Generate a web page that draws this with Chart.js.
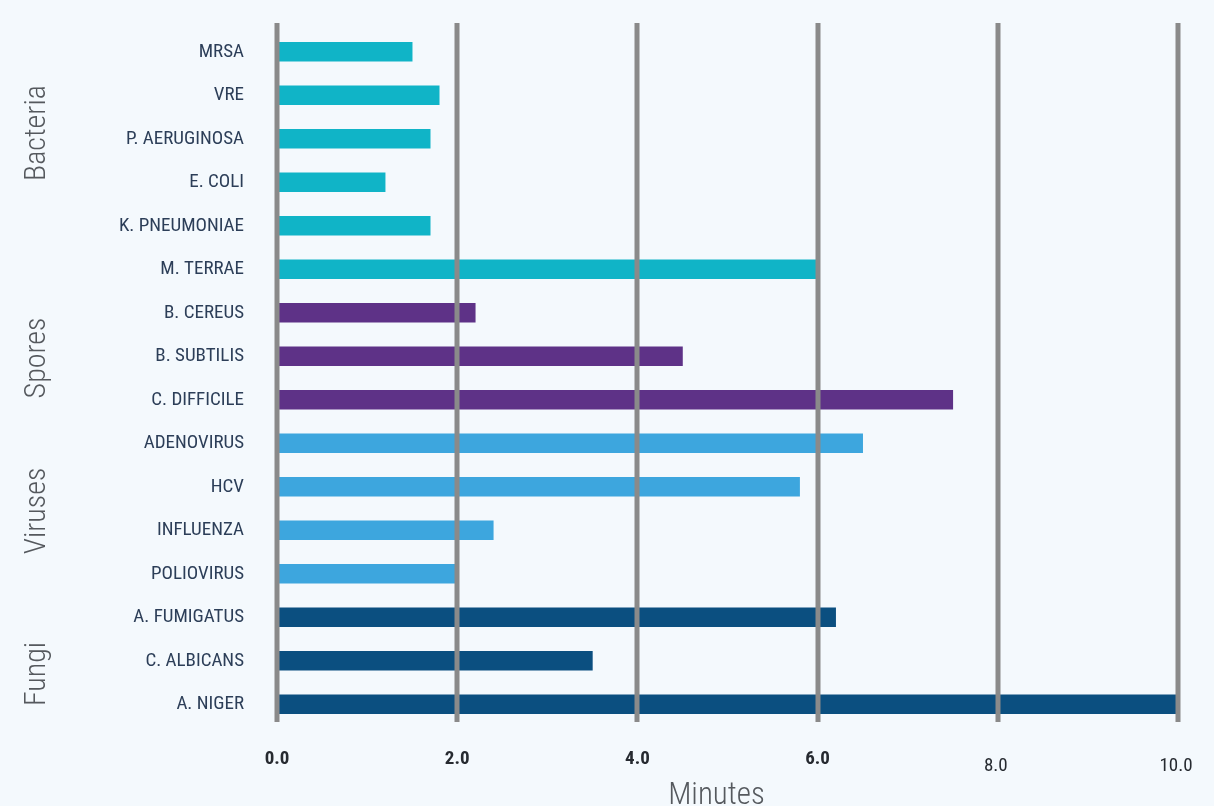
<!DOCTYPE html>
<html>
<head>
<meta charset="utf-8">
<script src="https://cdn.jsdelivr.net/npm/chart.js@4/dist/chart.umd.min.js"></script>
<style>
  html, body { margin: 0; padding: 0; background: #f4f9fd; }
  #wrap { width: 1214px; height: 806px; }
</style>
</head>
<body>
<div id="wrap"><canvas id="c" width="1214" height="806"></canvas></div>
<script>
// ---- data ----
const categories = ["MRSA", "VRE", "P. AERUGINOSA", "E. COLI", "K. PNEUMONIAE", "M. TERRAE",
  "B. CEREUS", "B. SUBTILIS", "C. DIFFICILE",
  "ADENOVIRUS", "HCV", "INFLUENZA", "POLIOVIRUS",
  "A. FUMIGATUS", "C. ALBICANS", "A. NIGER"];
const minutes = [1.5, 1.8, 1.7, 1.2, 1.7, 6.0,
  2.2, 4.5, 7.5,
  6.5, 5.8, 2.4, 2.0,
  6.2, 3.5, 10.0];
const groupOf = ["Bacteria", "Bacteria", "Bacteria", "Bacteria", "Bacteria", "Bacteria",
  "Spores", "Spores", "Spores",
  "Viruses", "Viruses", "Viruses", "Viruses",
  "Fungi", "Fungi", "Fungi"];
const groupNames = ["Bacteria", "Spores", "Viruses", "Fungi"];
const xTickValues = [0, 2, 4, 6, 8, 10];
const xTickLabels = ["0.0", "2.0", "4.0", "6.0", "8.0", "10.0"];
const axisTitle = "Minutes";

// ---- style ----
const FONT = "'Roboto Condensed', 'DejaVu Sans Condensed', sans-serif";
const groupColors = { Bacteria: "#10b4c7", Spores: "#5e3287", Viruses: "#3da6de", Fungi: "#0b4f80" };
const groupLabelY = { Bacteria: 133, Spores: 358, Viruses: 511, Fungi: 674 };

const overlay = {
  id: 'overlay',
  afterDatasetsDraw(chart) {
    const ctx = chart.ctx;
    const xs = chart.scales.x;
    ctx.save();
    // grid lines (drawn over bars)
    ctx.strokeStyle = '#8a8a8a';
    ctx.lineWidth = 5;
    xTickValues.forEach(v => {
      const px = Math.round(xs.getPixelForValue(v));
      ctx.beginPath();
      ctx.moveTo(px, 23);
      ctx.lineTo(px, 722);
      ctx.stroke();
    });
    // x tick labels
    ctx.textAlign = 'center';
    ctx.textBaseline = 'middle';
    ctx.fillStyle = '#262a30';
    xTickValues.forEach((v, i) => {
      const px = xs.getPixelForValue(v);
      const late = v >= 8;
      ctx.font = (late ? '' : 'bold ') + '19px ' + FONT;
      ctx.fillText(xTickLabels[i], px - (late ? 2 : 0), late ? 766 : 759);
    });
    // axis title
    ctx.font = '300 31px ' + FONT;
    ctx.fillStyle = '#55595e';
    ctx.textBaseline = 'alphabetic';
    ctx.fillText(axisTitle, (chart.chartArea.left + chart.chartArea.right) / 2 - 11, 804);
    // group labels
    groupNames.forEach(g => {
      ctx.save();
      ctx.translate(37, groupLabelY[g]);
      ctx.rotate(-Math.PI / 2);
      ctx.textAlign = 'center';
      ctx.textBaseline = 'middle';
      ctx.font = '300 30px ' + FONT;
      ctx.fillStyle = '#55595e';
      ctx.fillText(g, 0, 0);
      ctx.restore();
    });
    ctx.restore();
  }
};

new Chart(document.getElementById('c'), {
  type: 'bar',
  data: {
    labels: categories,
    datasets: [{
      data: minutes,
      backgroundColor: groupOf.map(g => groupColors[g]),
      barThickness: 19,
      borderWidth: 0
    }]
  },
  options: {
    indexAxis: 'y',
    responsive: false,
    animation: false,
    layout: { padding: { top: 30, right: 36, left: 0, bottom: 0 } },
    plugins: { legend: { display: false }, tooltip: { enabled: false } },
    scales: {
      x: {
        min: 0, max: 10,
        ticks: { display: false, stepSize: 2 },
        grid: { display: false },
        border: { display: false },
        afterFit(s) { s.height = 80; s.paddingLeft = 0; s.paddingRight = 0; }
      },
      y: {
        ticks: {
          color: '#2c3e58',
          padding: 33,
          font: { family: FONT, size: 19 }
        },
        grid: { display: false, drawTicks: false },
        border: { display: false },
        afterFit(s) { s.width = 277; s.paddingTop = 0; s.paddingBottom = 0; }
      }
    }
  },
  plugins: [overlay]
});
</script>
</body>
</html>
